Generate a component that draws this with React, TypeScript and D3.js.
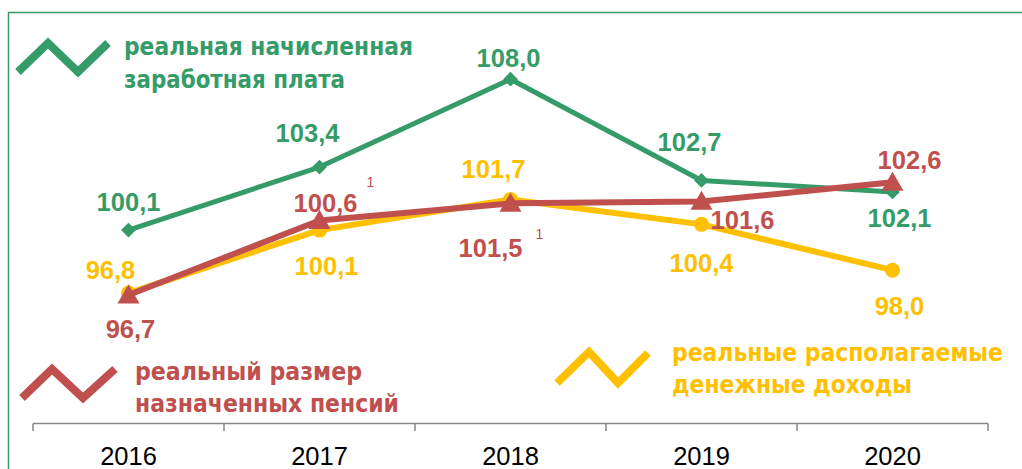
import React from "react";
import * as d3 from "d3";

const years = ["2016", "2017", "2018", "2019", "2020"];
const wages = [100.1, 103.4, 108.0, 102.7, 102.1];
const pensions = [96.7, 100.6, 101.5, 101.6, 102.6];
const income = [96.8, 100.1, 101.7, 100.4, 98.0];
const pensionNotes = ["", "1", "1", "", ""];

const GREEN = "#359B69";
const RED = "#C0504D";
const YELLOW = "#FFC000";

const fmt = (v: number) => v.toFixed(1).replace(".", ",");

// label offsets [dx, dy] from the data point (dy to baseline)
const wageOff = [[0, -19], [-12, -25], [-2, -12], [-12, -29], [7, 35]];
const incomeOff = [[-18, -14], [7, 45], [-17, -22], [0, 48], [7, 45]];
const pensionOff = [[2, 43], [6, -9], [-20, 54], [41, 28], [17, -13]];
const noteOff = [[0, 0], [41, -25], [45, -18], [0, 0], [0, 0]];

const W = 1022;
const H = 469;
const LABEL_FONT = "'Liberation Sans', Arial, sans-serif";
const LEGEND_FONT = "'DejaVu Sans Condensed', 'DejaVu Sans', sans-serif";

export default function App() {
  const x = d3.scaleBand<string>().domain(years).range([33, 988]);
  const y = d3.scaleLinear().domain([90, 110]).range([423, 41]);
  const cx = (d: string) => (x(d) as number) + x.bandwidth() / 2;

  const line = d3
    .line<number>()
    .x((_, i) => cx(years[i]))
    .y((v) => y(v));

  const diamond = d3.symbol().type(d3.symbolSquare).size(110)() as string;
  const triangle = d3.symbol().type(d3.symbolTriangle).size(210)() as string;

  const ticks = [...years.map((d) => x(d) as number), 988];

  const labels = (vals: number[], off: number[][], color: string) =>
    vals.map((v, i) => (
      <text
        key={i}
        x={cx(years[i]) + off[i][0]}
        y={y(v) + off[i][1]}
        textAnchor="middle"
        fill={color}
        fontFamily={LABEL_FONT}
        fontWeight="bold"
        fontSize={25.5}
      >
        {fmt(v)}
      </text>
    ));

  const legendText = (
    xx: number,
    lines: { t: string; y: number; w: number }[],
    color: string
  ) =>
    lines.map((l, i) => (
      <text
        key={i}
        x={xx}
        y={l.y}
        fill={color}
        fontFamily={LEGEND_FONT}
        fontWeight="bold"
        fontSize={24.5}
        textLength={l.w}
        lengthAdjust="spacingAndGlyphs"
      >
        {l.t}
      </text>
    ));

  return (
    <div style={{ position: "absolute", left: 0, top: 0 }}>
      <svg width={W} height={H} style={{ display: "block", background: "#fff" }}>
        <path d={`M8.5,${H} V12.5 H${W}`} fill="none" stroke={GREEN} strokeWidth={1.5} />

        {/* axis */}
        <g stroke="#868686" strokeWidth={1.5} fill="none">
          <line x1={33} x2={988} y1={423.5} y2={423.5} />
          {ticks.map((t, i) => (
            <line key={i} x1={t} x2={t} y1={423.5} y2={431} />
          ))}
        </g>
        {years.map((d) => (
          <text
            key={d}
            x={cx(d)}
            y={465}
            textAnchor="middle"
            fontFamily={LABEL_FONT}
            fontSize={25.5}
            fill="#000"
          >
            {d}
          </text>
        ))}

        {/* series lines */}
        <path d={line(wages) as string} fill="none" stroke={GREEN} strokeWidth={5} strokeLinejoin="round" />
        <path d={line(income) as string} fill="none" stroke={YELLOW} strokeWidth={6} strokeLinejoin="round" />
        {income.map((v, i) => (
          <circle key={i} cx={cx(years[i])} cy={y(v)} r={7.5} fill={YELLOW} />
        ))}
        {wages.map((v, i) => (
          <path
            key={i}
            d={diamond}
            transform={`translate(${cx(years[i])},${y(v)}) rotate(45)`}
            fill={GREEN}
          />
        ))}
        <path d={line(pensions) as string} fill="none" stroke={RED} strokeWidth={6} strokeLinejoin="round" />
        {pensions.map((v, i) => (
          <path
            key={i}
            d={triangle}
            transform={`translate(${cx(years[i])},${y(v) + 2})`}
            fill={RED}
          />
        ))}

        {/* data labels */}
        {labels(wages, wageOff, GREEN)}
        {labels(income, incomeOff, YELLOW)}
        {labels(pensions, pensionOff, RED)}
        {pensions.map((v, i) =>
          pensionNotes[i] ? (
            <text
              key={i}
              x={cx(years[i]) + pensionOff[i][0] + noteOff[i][0]}
              y={y(v) + pensionOff[i][1] + noteOff[i][1]}
              fill={RED}
              fontFamily={LABEL_FONT}
              fontSize={14}
            >
              {pensionNotes[i]}
            </text>
          ) : null
        )}

        {/* legends */}
        <polyline points="18,72 48,43 78,72 108,43" fill="none" stroke={GREEN} strokeWidth={8} />
        {legendText(124, [
          { t: "реальная начисленная", y: 55, w: 289 },
          { t: "заработная плата", y: 88, w: 221 },
        ], GREEN)}

        <polyline points="22,398 52,369 83,398 115,369" fill="none" stroke={RED} strokeWidth={8} />
        {legendText(135, [
          { t: "реальный размер", y: 380, w: 227 },
          { t: "назначенных пенсий", y: 412, w: 264 },
        ], RED)}

        <polyline points="557,383 589,352 618,383 648,353" fill="none" stroke={YELLOW} strokeWidth={8} />
        {legendText(672, [
          { t: "реальные располагаемые", y: 361, w: 331 },
          { t: "денежные доходы", y: 393, w: 240 },
        ], YELLOW)}
      </svg>
    </div>
  );
}
